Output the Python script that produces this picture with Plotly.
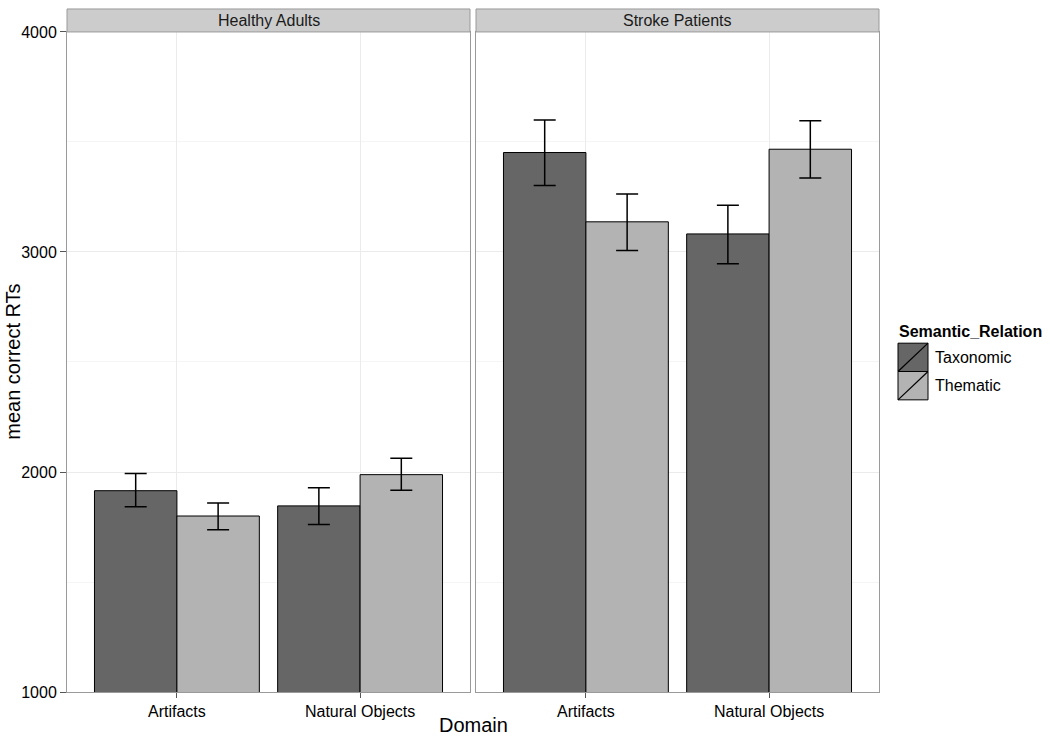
import plotly.graph_objects as go

domains = ["Artifacts", "Natural Objects"]
groups = ["Healthy Adults", "Stroke Patients"]
relations = ["Taxonomic", "Thematic"]

# mean RTs [group][relation] per domain
means = {
    ("Healthy Adults", "Taxonomic"): [1915, 1846],
    ("Healthy Adults", "Thematic"): [1800, 1988],
    ("Stroke Patients", "Taxonomic"): [3452, 3082],
    ("Stroke Patients", "Thematic"): [3137, 3467],
}
err_upper = {
    ("Healthy Adults", "Taxonomic"): [1993, 1928],
    ("Healthy Adults", "Thematic"): [1859, 2062],
    ("Stroke Patients", "Taxonomic"): [3600, 3212],
    ("Stroke Patients", "Thematic"): [3264, 3596],
}
err_lower = {
    ("Healthy Adults", "Taxonomic"): [1842, 1761],
    ("Healthy Adults", "Thematic"): [1738, 1917],
    ("Stroke Patients", "Taxonomic"): [3302, 2947],
    ("Stroke Patients", "Thematic"): [3007, 3336],
}
fills = {"Taxonomic": "#666666", "Thematic": "#b3b3b3"}

W, H = 1050, 745
FONT = "Liberation Sans, Arial, Helvetica, sans-serif"

def px(x):
    return x / W

def py(y):
    return 1 - y / H

fig = go.Figure()
for gi, g in enumerate(groups):
    xa = "x" if gi == 0 else "x2"
    ya = "y" if gi == 0 else "y2"
    for r in relations:
        m = means[(g, r)]
        up = [u - v for u, v in zip(err_upper[(g, r)], m)]
        lo = [v - l for l, v in zip(err_lower[(g, r)], m)]
        fig.add_trace(go.Bar(
            x=domains, y=m, name=r, xaxis=xa, yaxis=ya,
            marker=dict(color=fills[r], line=dict(color="black", width=1)),
            error_y=dict(type="data", symmetric=False, array=up, arrayminus=lo,
                         color="black", thickness=1.5, width=11),
            showlegend=False,
        ))

panel_top, panel_bot = 24.5, 700
left_dom = [px(67), px(470)]
right_dom = [px(476), px(879)]
ydom = [py(panel_bot), py(panel_top)]

axis_common = dict(
    showline=True, mirror=True, linecolor="#9a9a9a", linewidth=1,
    showgrid=True, gridcolor="#ebebeb", gridwidth=1, zeroline=False,
    tickfont=dict(family=FONT, size=16, color="black"),
)

fig.update_layout(
    width=W, height=H,
    margin=dict(l=0, r=0, t=0, b=0),
    paper_bgcolor="white", plot_bgcolor="white",
    barmode="group", bargap=0.1, bargroupgap=0,
    font=dict(family=FONT, size=16, color="black"),
    xaxis=dict(domain=left_dom, anchor="y", type="category", range=[-0.6, 1.6],
               ticks="outside", ticklen=5, tickcolor="#555555", **axis_common),
    xaxis2=dict(domain=right_dom, anchor="y2", type="category", range=[-0.6, 1.6],
                ticks="outside", ticklen=5, tickcolor="#555555", **axis_common),
    yaxis=dict(domain=ydom, anchor="x", range=[1000, 4000], tick0=1000, dtick=1000,
               ticks="outside", ticklen=6, tickcolor="#555555",
               minor=dict(dtick=500, tick0=1000, showgrid=True, gridcolor="#f5f5f5", ticks=""),
               **axis_common),
    yaxis2=dict(domain=ydom, anchor="x2", matches="y", range=[1000, 4000], tick0=1000, dtick=1000,
                showticklabels=False, ticks="",
                minor=dict(dtick=500, tick0=1000, showgrid=True, gridcolor="#f5f5f5", ticks=""),
                **axis_common),
)

shapes = []
annotations = []
# facet strips
for g, (x0, x1) in zip(groups, [(67, 470), (476, 879)]):
    shapes.append(dict(type="rect", xref="paper", yref="paper",
                       x0=px(x0), x1=px(x1), y0=py(24.5), y1=py(1),
                       fillcolor="#cccccc", line=dict(color="#9a9a9a", width=1), layer="above"))
    annotations.append(dict(text=g, xref="paper", yref="paper", x=px((x0 + x1) / 2), y=py(13),
                            xanchor="center", yanchor="middle", showarrow=False,
                            font=dict(family=FONT, size=16, color="#1a1a1a")))

# axis titles
annotations.append(dict(text="Domain", xref="paper", yref="paper", x=px(473), y=py(734),
                        xanchor="center", yanchor="middle", showarrow=False,
                        font=dict(family=FONT, size=20, color="black")))
annotations.append(dict(text="mean correct RTs", xref="paper", yref="paper", x=px(13), y=py(362),
                        xanchor="center", yanchor="middle", showarrow=False, textangle=-90,
                        font=dict(family=FONT, size=20, color="black")))

# legend (manual)
annotations.append(dict(text="<b>Semantic_Relation</b>", xref="paper", yref="paper",
                        x=px(897), y=py(331), xanchor="left", yanchor="middle", showarrow=False,
                        font=dict(family=FONT, size=16, color="black")))
key_tops = [343, 372]
for r, top in zip(relations, key_tops):
    bot = top + 29
    shapes.append(dict(type="rect", xref="paper", yref="paper",
                       x0=px(898), x1=px(928), y0=py(bot), y1=py(top),
                       fillcolor=fills[r], line=dict(color="black", width=1)))
    shapes.append(dict(type="line", xref="paper", yref="paper",
                       x0=px(898), y0=py(bot), x1=px(928), y1=py(top),
                       line=dict(color="black", width=1.2)))
    annotations.append(dict(text=r, xref="paper", yref="paper", x=px(933), y=py((top + bot) / 2),
                            xanchor="left", yanchor="middle", showarrow=False,
                            font=dict(family=FONT, size=16, color="black")))

fig.update_layout(shapes=shapes, annotations=annotations)
fig.write_html("out.html", post_script="document.body.style.margin='0';",
               config={"displayModeBar": False})
